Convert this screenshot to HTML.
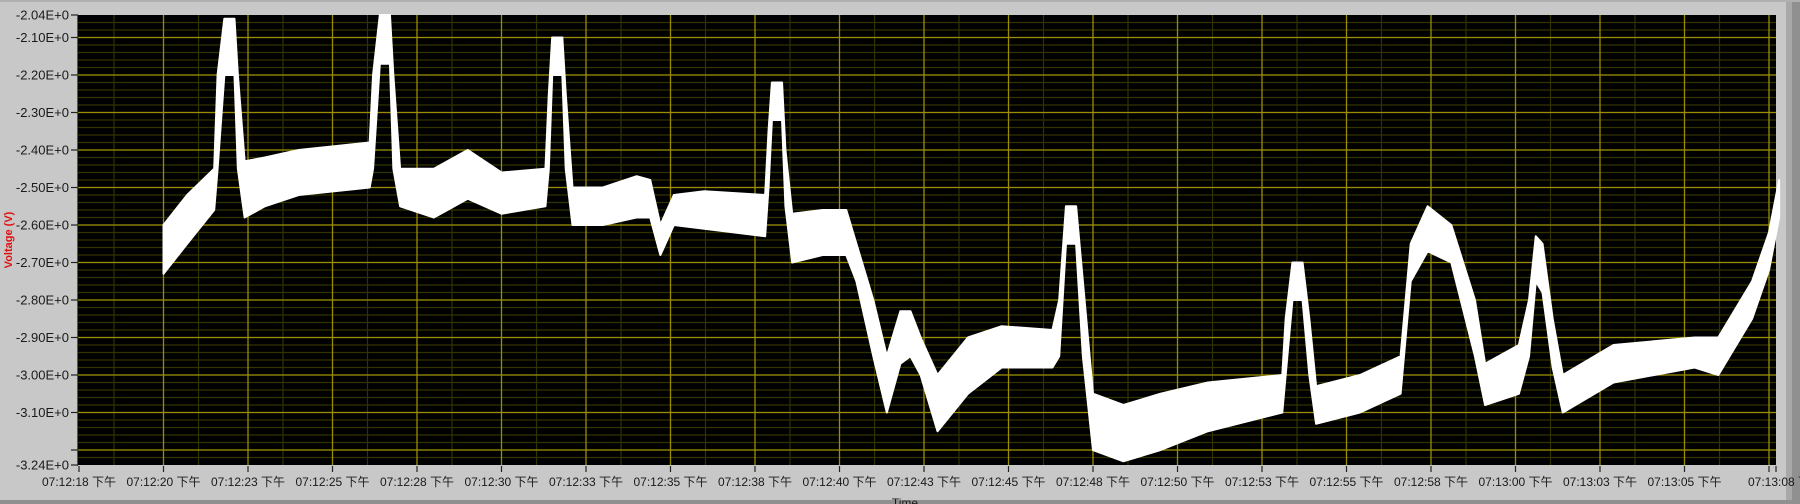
<!DOCTYPE html>
<html><head><meta charset="utf-8"><style>
html,body{margin:0;padding:0;background:#c8c8c8;width:1800px;height:504px;overflow:hidden}
svg{display:block}
text{font-family:"Liberation Sans","Noto Sans CJK SC",sans-serif;font-size:13px;fill:#1a1a1a}
.xl{font-size:12px}
</style></head><body>
<svg id="chart" width="1800" height="504">
<rect x="0" y="0" width="1800" height="504" fill="#c8c8c8"/>
<rect x="1786" y="0" width="6" height="504" fill="#a8a8a8"/>
<rect x="1792" y="0" width="8" height="504" fill="#909090"/>
<rect x="0" y="0" width="1800" height="2" fill="#b0b0b0"/>
<rect x="0" y="500" width="1800" height="4" fill="#909090"/>
<rect x="78" y="15" width="1698" height="450" fill="#000"/>
<g id="grid"></g>
<g id="series"></g>
<g id="yaxis"></g>
<g id="xaxis"></g>
<text x="12" y="240" transform="rotate(-90 12 240)" text-anchor="middle" style="fill:#e01010;font-weight:bold;font-size:11px">Voltage (V)</text>
<text x="905" y="507" text-anchor="middle" style="font-size:12px">Time</text>
</svg>
<script>
const yTickValues=[-2.10,-2.20,-2.30,-2.40,-2.50,-2.60,-2.70,-2.80,-2.90,-3.00,-3.10];
const yTickLabels=["-2.10E+0","-2.20E+0","-2.30E+0","-2.40E+0","-2.50E+0","-2.60E+0","-2.70E+0","-2.80E+0","-2.90E+0","-3.00E+0","-3.10E+0"];
const xTickLabels=["07:12:18 下午","07:12:20 下午","07:12:23 下午","07:12:25 下午","07:12:28 下午","07:12:30 下午","07:12:33 下午","07:12:35 下午","07:12:38 下午","07:12:40 下午","07:12:43 下午","07:12:45 下午","07:12:48 下午","07:12:50 下午","07:12:53 下午","07:12:55 下午","07:12:58 下午","07:13:00 下午","07:13:03 下午","07:13:05 下午","07:13:08 下"];
const times=[20.5,21.2,22.0,22.1,22.3,22.6,22.7,22.9,23.5,24.5,26.6,26.7,26.9,27.2,27.3,27.5,28.5,29.5,30.5,31.8,31.9,32.0,32.3,32.4,32.6,33.5,34.5,34.9,35.2,35.6,36.5,38.3,38.4,38.5,38.8,38.9,39.1,40.0,40.7,41.0,41.5,41.9,42.3,42.6,42.9,43.4,44.3,45.3,46.8,47.0,47.2,47.5,47.7,48.0,48.9,50.0,51.4,53.6,53.7,53.9,54.2,54.4,54.6,55.9,57.1,57.4,57.9,58.6,59.3,59.6,60.6,60.9,61.1,61.3,61.6,61.9,63.4,65.8,66.5,67.5,68.0,68.3];
const upper=[-2.60,-2.52,-2.45,-2.20,-2.05,-2.05,-2.20,-2.43,-2.42,-2.40,-2.38,-2.20,-2.04,-2.04,-2.20,-2.45,-2.45,-2.40,-2.46,-2.45,-2.25,-2.10,-2.10,-2.25,-2.50,-2.50,-2.47,-2.48,-2.60,-2.52,-2.51,-2.52,-2.35,-2.22,-2.22,-2.40,-2.57,-2.56,-2.56,-2.65,-2.80,-2.95,-2.83,-2.83,-2.90,-3.00,-2.90,-2.87,-2.88,-2.80,-2.55,-2.55,-2.75,-3.05,-3.08,-3.05,-3.02,-3.00,-2.85,-2.70,-2.70,-2.85,-3.03,-3.00,-2.95,-2.65,-2.55,-2.60,-2.80,-2.97,-2.92,-2.80,-2.63,-2.65,-2.85,-3.00,-2.92,-2.90,-2.90,-2.75,-2.62,-2.48];
const lower=[-2.73,-2.65,-2.56,-2.45,-2.20,-2.20,-2.45,-2.58,-2.55,-2.52,-2.50,-2.45,-2.17,-2.17,-2.45,-2.55,-2.58,-2.53,-2.57,-2.55,-2.45,-2.20,-2.20,-2.45,-2.60,-2.60,-2.58,-2.58,-2.68,-2.60,-2.61,-2.63,-2.50,-2.32,-2.32,-2.55,-2.70,-2.68,-2.68,-2.75,-2.95,-3.10,-2.97,-2.95,-3.00,-3.15,-3.05,-2.98,-2.98,-2.95,-2.65,-2.65,-2.95,-3.20,-3.23,-3.20,-3.15,-3.10,-3.00,-2.80,-2.80,-3.00,-3.13,-3.10,-3.05,-2.75,-2.67,-2.70,-2.95,-3.08,-3.05,-2.95,-2.75,-2.78,-2.98,-3.10,-3.02,-2.98,-3.00,-2.85,-2.72,-2.58];

const NS='http://www.w3.org/2000/svg';
const X0=79, PX_PER_S=84.5/2.5, T0=18;
function xs(t){return X0+(t-T0)*PX_PER_S;}
function ys(v){return 15+(-2.04-v)/1.2*450;}
function mk(tag,attrs,parent){const e=document.createElementNS(NS,tag);for(const k in attrs)e.setAttribute(k,attrs[k]);parent.appendChild(e);return e;}
const grid=document.getElementById('grid');
for(let i=1;i<60;i++){const v=-2.04-i*0.02;const y=ys(v);
 const l=mk('line',{x1:78,x2:1776,y1:y,y2:y,stroke:'#333300','stroke-width':1.2},grid);
 
 }
for(let i=0;i<xTickLabels.length;i++){const x=X0+i*84.5;
 const m=mk('line',{x1:x+35,x2:x+35,y1:15,y2:465,stroke:'#333300','stroke-width':1.2},grid);
 
 
 if(i>0){const l=mk('line',{x1:x,x2:x,y1:15,y2:465,stroke:'#9a8e00','stroke-width':1.3},grid);
 
 }}
const yMajors=yTickValues.concat([-3.20]);
yMajors.forEach(v=>{const y=ys(v);
 const l=mk('line',{x1:78,x2:1776,y1:y,y2:y,stroke:'#9a8e00','stroke-width':1.3},grid);
 
 });
const ser=document.getElementById('series');
let d='M'+xs(times[0])+','+ys(upper[0]);
for(let i=1;i<times.length;i++)d+=' L'+xs(times[i])+','+ys(upper[i]);
for(let i=times.length-1;i>=0;i--)d+=' L'+xs(times[i])+','+ys(lower[i]);
d+='Z';
const band=mk('path',{d:d,fill:'#fff',stroke:'#fff','stroke-width':2,'stroke-linejoin':'round'},ser);


const ya=document.getElementById('yaxis');
const al=mk('line',{x1:77.5,x2:77.5,y1:15,y2:466,stroke:'#555','stroke-width':1},ya);


const allY=[-2.04].concat(yTickValues).concat([-3.20,-3.24]);
const allL=["-2.04E+0"].concat(yTickLabels).concat(["","-3.24E+0"]);
allY.forEach((v,i)=>{const y=ys(v);
 const tk=mk('line',{x1:71,x2:78,y1:y,y2:y,stroke:'#222','stroke-width':1.2},ya);
 
 
 if(allL[i]){const t=mk('text',{x:69,y:y+4.5,'text-anchor':'end'},ya);t.textContent=allL[i];
 
 }});
const xa=document.getElementById('xaxis');
xTickLabels.forEach((s,i)=>{const x=X0+i*84.5;
 const tk=mk('line',{x1:x,x2:x,y1:466,y2:472,stroke:'#222','stroke-width':1.2},xa);
 
 
 const t=mk('text',{x:x+(i===xTickLabels.length-1?10:0),y:486,'text-anchor':'middle','class':'xl'},xa);t.textContent=s;
 
 });
const et=mk('line',{x1:1776,x2:1776,y1:466,y2:472,stroke:'#222','stroke-width':1.2},xa);


</script>
</body></html>
